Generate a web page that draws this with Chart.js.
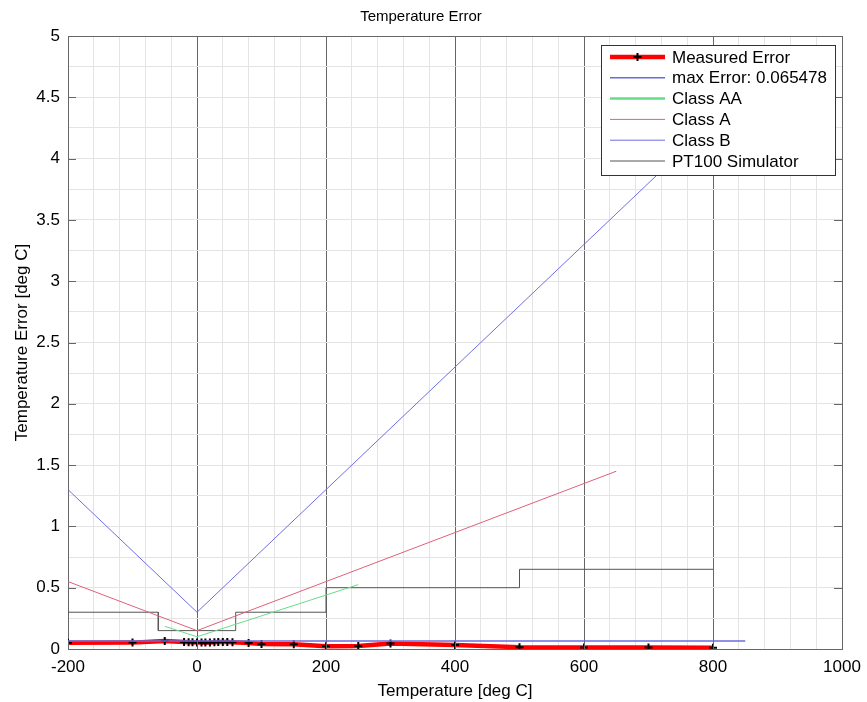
<!DOCTYPE html>
<html>
<head>
<meta charset="utf-8">
<script src="https://cdn.jsdelivr.net/npm/chart.js@4/dist/chart.umd.min.js"></script>
<style>
html,body{margin:0;padding:0;background:#fff;}
#wrap{width:867px;height:702px;position:relative;}
</style>
</head>
<body>
<div id="wrap"><canvas id="c" width="867" height="702"></canvas></div>
<script>
// ---- data ----
const measuredT   = [-200, -100, -50, -20, -13, -7, 0, 7, 13, 20, 27, 33, 40, 47, 55, 80, 100, 150, 200, 250, 300, 400, 500, 600, 700, 800];
const measuredErr = [0.050, 0.052, 0.0655, 0.058, 0.056, 0.055, 0.054, 0.053, 0.052, 0.053, 0.055, 0.057, 0.058, 0.057, 0.055, 0.048, 0.040, 0.038, 0.022, 0.025, 0.045, 0.032, 0.015, 0.013, 0.013, 0.010];
const maxErrT     = [-200, 850];
const maxErrVal   = [0.065478, 0.065478];
const classAAT    = [-50, 0, 250];
const classAAVal  = [0.185, 0.10, 0.525];
const classAT     = [-200, 0, 650];
const classAVal   = [0.55, 0.15, 1.45];
const classBT     = [-200, 0, 850];
const classBVal   = [1.30, 0.30, 4.55];
const pt100T      = [-200, -60, -60, 60, 60, 200, 200, 500, 500, 800];
const pt100Val    = [0.30, 0.30, 0.15, 0.15, 0.30, 0.30, 0.50, 0.50, 0.65, 0.65];
const xTickLabels = [-200, 0, 200, 400, 600, 800, 1000];
const yTickLabels = [0, 0.5, 1, 1.5, 2, 2.5, 3, 3.5, 4, 4.5, 5];

const pts = (xs, ys) => xs.map((x, i) => ({x: x, y: ys[i]}));
const FONT = '"Liberation Sans", Arial, sans-serif';
const DARK = '#666666';

const legendPlugin = {
  id: 'boxLegend',
  afterDatasetsDraw(chart) {
    const ctx = chart.ctx;
    const x0 = 601, y0 = 45, w = 234, h = 130;
    ctx.save();
    ctx.fillStyle = '#fff';
    ctx.fillRect(x0, y0, w, h);
    ctx.strokeStyle = '#333';
    ctx.lineWidth = 1;
    ctx.strokeRect(x0 + 0.5, y0 + 0.5, w, h);
    ctx.font = '17px ' + FONT;
    ctx.textBaseline = 'middle';
    chart.data.datasets.forEach((ds, i) => {
      const y = y0 + 12 + i * 20.8;
      ctx.strokeStyle = ds.borderColor;
      ctx.lineWidth = ds.legendWidth || ds.borderWidth;
      ctx.beginPath();
      ctx.moveTo(x0 + 9, y);
      ctx.lineTo(x0 + 64, y);
      ctx.stroke();
      if (ds.pointRadius > 0) {
        ctx.strokeStyle = '#000';
        ctx.lineWidth = 2;
        ctx.beginPath();
        ctx.moveTo(x0 + 36.5, y - 4); ctx.lineTo(x0 + 36.5, y + 4);
        ctx.moveTo(x0 + 32.5, y); ctx.lineTo(x0 + 40.5, y);
        ctx.stroke();
      }
      ctx.fillStyle = '#000';
      ctx.fillText(ds.label, x0 + 71, y + 1);
    });
    ctx.restore();
  }
};

const innerTicks = {
  id: 'innerTicks',
  afterDatasetsDraw(chart) {
    const ctx = chart.ctx, a = chart.chartArea;
    const xs = chart.scales.x, ys = chart.scales.y;
    ctx.save();
    ctx.strokeStyle = DARK;
    ctx.lineWidth = 1;
    ctx.beginPath();
    xTickLabels.forEach(v => {
      const px = Math.round(xs.getPixelForValue(v)) + 0.5;
      ctx.moveTo(px, a.bottom); ctx.lineTo(px, a.bottom - 8);
      ctx.moveTo(px, a.top); ctx.lineTo(px, a.top + 8);
    });
    yTickLabels.forEach(v => {
      const py = Math.round(ys.getPixelForValue(v)) + 0.5;
      ctx.moveTo(a.left, py); ctx.lineTo(a.left + 8, py);
      ctx.moveTo(a.right, py); ctx.lineTo(a.right - 8, py);
    });
    ctx.stroke();
    ctx.restore();
  }
};

new Chart(document.getElementById('c'), {
  type: 'scatter',
  data: {
    datasets: [
      {label: 'Measured Error', data: pts(measuredT, measuredErr), showLine: true,
       borderColor: '#ff0000', borderWidth: 4.5, legendWidth: 4.5,
       pointStyle: 'cross', pointRadius: 4, pointBorderWidth: 2,
       pointBorderColor: '#000', pointBackgroundColor: '#000', order: 6},
      {label: 'max Error: 0.065478', data: pts(maxErrT, maxErrVal), showLine: true,
       borderColor: '#6b6bdc', borderWidth: 1.5, pointRadius: 0, order: 1},
      {label: 'Class AA', data: pts(classAAT, classAAVal), showLine: true,
       borderColor: '#66dd88', borderWidth: 1, legendWidth: 2.5, pointRadius: 0, order: 2},
      {label: 'Class A', data: pts(classAT, classAVal), showLine: true,
       borderColor: '#e0607a', borderWidth: 1, pointRadius: 0, order: 3},
      {label: 'Class B', data: pts(classBT, classBVal), showLine: true,
       borderColor: '#6f6fe4', borderWidth: 1, pointRadius: 0, order: 4},
      {label: 'PT100 Simulator', data: pts(pt100T, pt100Val), showLine: true,
       borderColor: '#555555', borderWidth: 1, pointRadius: 0, order: 5}
    ]
  },
  options: {
    responsive: false,
    animation: false,
    events: [],
    layout: {padding: {left: 0, right: 25, top: 0, bottom: 0}},
    plugins: {
      legend: {display: false},
      tooltip: {enabled: false},
      title: {display: true, text: 'Temperature Error', color: '#000',
              font: {family: FONT, size: 15, weight: 'normal'}, padding: {top: 8, bottom: 10}}
    },
    scales: {
      x: {
        type: 'linear', min: -200, max: 1000,
        afterBuildTicks: s => { const t = []; for (let v = -200; v <= 1000; v += 40) t.push({value: v}); s.ticks = t; },
        afterFit: s => { s.height = 53; s.paddingLeft = 0; s.paddingRight = 0; },
        grid: {
          drawTicks: false,
          color: c => { const v = c.tick.value; return (v % 200 === 0 && v >= 0) ? DARK : '#e4e4e4'; },
          lineWidth: 1
        },
        border: {color: DARK, width: 1},
        ticks: {
          color: '#000', font: {family: FONT, size: 17}, padding: 8, maxRotation: 0, autoSkip: false,
          callback: v => xTickLabels.includes(v) ? String(v) : ''
        },
        title: {display: true, text: 'Temperature [deg C]', color: '#000',
                font: {family: FONT, size: 17}, padding: {top: 1, bottom: 0}}
      },
      y: {
        type: 'linear', min: 0, max: 5,
        afterBuildTicks: s => { const t = []; for (let i = 0; i <= 20; i++) t.push({value: i * 0.25}); s.ticks = t; },
        afterFit: s => { s.width = 68; },
        grid: {
          drawTicks: false,
          color: c => c.tick.value === 5 ? DARK : '#e4e4e4',
          lineWidth: 1
        },
        border: {color: DARK, width: 1},
        ticks: {
          color: '#000', font: {family: FONT, size: 17}, padding: 8, autoSkip: false,
          callback: v => yTickLabels.includes(v) ? String(v) : ''
        },
        title: {display: true, text: 'Temperature Error [deg C]', color: '#000',
                font: {family: FONT, size: 17}, padding: {top: 12, bottom: 0}}
      }
    }
  },
  plugins: [innerTicks, legendPlugin]
});
</script>
</body>
</html>
